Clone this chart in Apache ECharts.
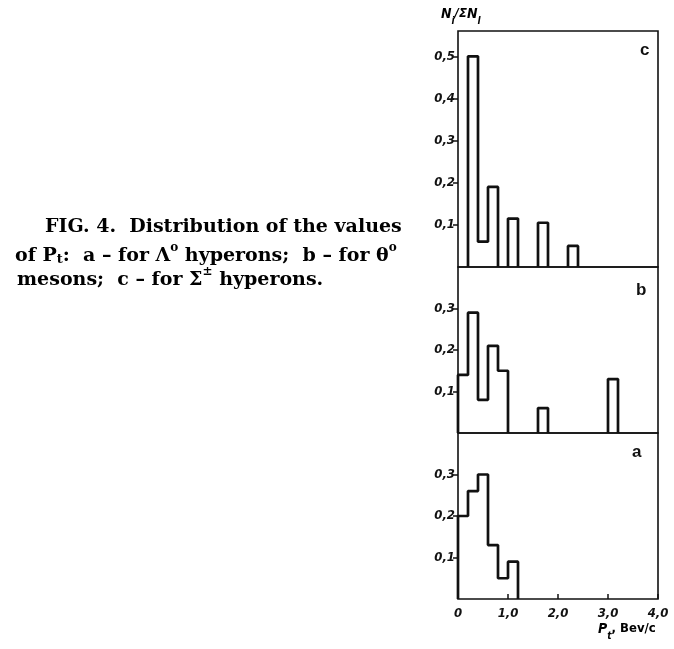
<!DOCTYPE html>
<html>
<head>
<meta charset="utf-8">
<script src="https://cdn.jsdelivr.net/npm/echarts@6/dist/echarts.min.js"></script>
<style>
html,body{margin:0;padding:0;background:#fff;}
#chart{width:674px;height:649px;}
</style>
</head>
<body>
<div id="chart"></div>
<script>
// ---- data (bin width 0.2 Bev/c, bins start at 0) ----
const binWidth = 0.2;
const xTickValues = [0, 1, 2, 3, 4];
const xTickLabels = ['0', '1,0', '2,0', '3,0', '4,0'];
const yTickValuesC = [0.1, 0.2, 0.3, 0.4, 0.5];
const yTickLabelsC = ['0,1', '0,2', '0,3', '0,4', '0,5'];
const yTickValuesAB = [0.1, 0.2, 0.3];
const yTickLabelsAB = ['0,1', '0,2', '0,3'];
// panel a: Lambda0 hyperons
const panelA = [0.20, 0.26, 0.30, 0.13, 0.05, 0.09];
// panel b: theta0 mesons
const panelB = [0.14, 0.29, 0.08, 0.21, 0.15, 0, 0, 0, 0.06, 0, 0, 0, 0, 0, 0, 0.13];
// panel c: Sigma+- hyperons
const panelC = [0, 0.50, 0.06, 0.19, 0, 0.115, 0, 0, 0.105, 0, 0, 0.05];

function outline(vals) {
  const pts = [];
  let i = 0;
  while (i < vals.length) {
    if (!vals[i]) { i++; continue; }
    pts.push([+(i * binWidth).toFixed(3), 0]);
    while (i < vals.length && vals[i]) {
      pts.push([+(i * binWidth).toFixed(3), vals[i]]);
      pts.push([+((i + 1) * binWidth).toFixed(3), vals[i]]);
      i++;
    }
    pts.push([+(i * binWidth).toFixed(3), 0]);
    pts.push(['-', '-']);
  }
  return pts;
}

const tickFont = "'DejaVu Sans Condensed','Liberation Sans Narrow','Liberation Sans',sans-serif";
const grids = [
  {left: 458, top: 31, width: 200, height: 236},
  {left: 458, top: 267, width: 200, height: 166},
  {left: 458, top: 433, width: 200, height: 166}
].map(g => Object.assign(g, {show: true, borderColor: '#111', borderWidth: 1.6, backgroundColor: 'transparent'}));

function yAxis(idx, max, vals, labels) {
  return {
    type: 'value', gridIndex: idx, min: 0, max: max, interval: 0.1,
    splitLine: {show: false},
    axisLine: {show: false},
    axisTick: {show: true, inside: false, length: 5, lineStyle: {color: '#111', width: 1.5},
      customValues: vals},
    axisLabel: {
      show: true, margin: 3, color: '#111', fontSize: 13, fontStyle: 'italic', fontWeight: 'bold',
      fontFamily: tickFont,
      customValues: vals,
      formatter: function (v) {
        for (let k = 0; k < vals.length; k++) if (Math.abs(v - vals[k]) < 1e-6) return labels[k];
        return '';
      }
    }
  };
}
function xAxis(idx, withLabels) {
  return {
    type: 'value', gridIndex: idx, min: 0, max: 4, interval: 1,
    splitLine: {show: false},
    axisLine: {show: false},
    axisTick: {show: withLabels, inside: true, length: 5, lineStyle: {color: '#111', width: 1.5}},
    axisLabel: {
      show: withLabels, margin: 8, color: '#111', fontSize: 13, fontStyle: 'italic', fontWeight: 'bold',
      fontFamily: tickFont,
      formatter: function (v) {
        const k = xTickValues.indexOf(Math.round(v));
        return k >= 0 ? xTickLabels[k] : '';
      }
    }
  };
}

const lineStyle = {color: '#111', width: 2.7};
const capFont = "'DejaVu Serif','Liberation Serif',serif";
const capRich = {
  n: {fontFamily: capFont, fontSize: 19, fontWeight: 'bold', color: '#111', lineHeight: 24, verticalAlign: 'bottom'},
  sub: {fontFamily: capFont, fontSize: 13, fontWeight: 'bold', color: '#111', lineHeight: 24, verticalAlign: 'bottom'},
  sup: {fontFamily: capFont, fontSize: 12, fontWeight: 'bold', color: '#111', lineHeight: 24, verticalAlign: 'top'}
};
const axRich = {
  n: {fontFamily: tickFont, fontSize: 14, fontStyle: 'italic', fontWeight: 'bold', color: '#111', lineHeight: 19, verticalAlign: 'top'},
  sub: {fontFamily: tickFont, fontSize: 10, fontStyle: 'italic', fontWeight: 'bold', color: '#111', lineHeight: 19, verticalAlign: 'bottom'},
  m: {fontFamily: tickFont, fontSize: 13, fontStyle: 'italic', fontWeight: 'bold', color: '#111', lineHeight: 19, verticalAlign: 'top'},
  r: {fontFamily: tickFont, fontSize: 13, fontWeight: 'bold', color: '#111', lineHeight: 19, verticalAlign: 'top'}
};

const option = {
  backgroundColor: '#fff',
  animation: false,
  grid: grids,
  xAxis: [xAxis(0, false), xAxis(1, false), xAxis(2, true)],
  yAxis: [yAxis(0, 0.56, yTickValuesC, yTickLabelsC), yAxis(1, 0.4, yTickValuesAB, yTickLabelsAB), yAxis(2, 0.4, yTickValuesAB, yTickLabelsAB)],
  series: [
    {type: 'line', xAxisIndex: 0, yAxisIndex: 0, data: outline(panelC), symbol: 'none', lineStyle: lineStyle, connectNulls: false},
    {type: 'line', xAxisIndex: 1, yAxisIndex: 1, data: outline(panelB), symbol: 'none', lineStyle: lineStyle, connectNulls: false},
    {type: 'line', xAxisIndex: 2, yAxisIndex: 2, data: outline(panelA), symbol: 'none', lineStyle: lineStyle, connectNulls: false}
  ],
  graphic: [
    {type: 'text', left: 640, top: 42, style: {text: 'c', font: "bold 17px 'Liberation Sans',sans-serif", fill: '#111'}},
    {type: 'text', left: 636, top: 282, style: {text: 'b', font: "bold 17px 'Liberation Sans',sans-serif", fill: '#111'}},
    {type: 'text', left: 632, top: 444, style: {text: 'a', font: "bold 17px 'Liberation Sans',sans-serif", fill: '#111'}},
    {type: 'text', left: 441, top: 7, style: {text: '{n|N}{sub|i}{m|/Σ}{n|N}{sub|l}', rich: axRich}},
    {type: 'text', left: 598, top: 622, style: {text: '{n|P}{sub|t}{r|, Bev/c}', rich: axRich}},
    {type: 'text', left: 45, top: 218, style: {text: '{n|FIG. 4.  Distribution of the values}', rich: capRich}},
    {type: 'text', left: 15, top: 242, style: {text: '{n|of P}{sub|t}{n|:  a – for Λ}{sup|o}{n| hyperons;  b – for θ}{sup|o}', rich: capRich}},
    {type: 'text', left: 17, top: 266, style: {text: '{n|mesons;  c – for Σ}{sup|±}{n| hyperons.}', rich: capRich}}
  ]
};
const chart = echarts.init(document.getElementById('chart'), null, {renderer: 'canvas'});
chart.setOption(option);
</script>
</body>
</html>
